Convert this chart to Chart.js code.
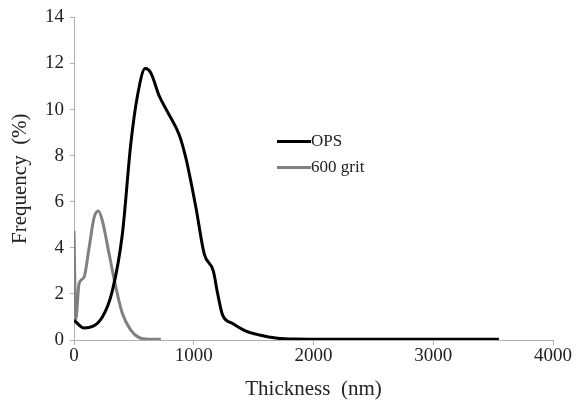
<!DOCTYPE html>
<html>
<head>
<meta charset="utf-8">
<script src="https://cdn.jsdelivr.net/npm/chart.js@4/dist/chart.umd.min.js"></script>
<style>
  html, body { margin: 0; padding: 0; background: #fff; }
  #wrap { position: relative; width: 585px; height: 402px; }
  .leg { position: absolute; font-family: "Liberation Serif", serif; font-size: 17px; color: #222; display: flex; align-items: center; }
  .leg span.sw { display: inline-block; width: 34px; height: 3px; margin-right: 0; }
</style>
</head>
<body>
<div id="wrap">
  <canvas id="c" width="585" height="402"></canvas>
  <div class="leg" style="left:277px; top:131px;"><span class="sw" style="background:#000"></span>OPS</div>
  <div class="leg" style="left:277px; top:157px;"><span class="sw" style="background:#808080"></span>600 grit</div>
</div>
<script>
// OPS distribution (thickness nm, frequency %)
const opsThickness = [0, 84, 237, 321, 404, 474, 530, 594, 641, 711, 781, 879, 934, 1018, 1088, 1163, 1200, 1241, 1325, 1436, 1548, 1700, 1850, 2100, 2500, 3000, 3548];
const opsFreq =      [0.86, 0.52, 1.0, 2.15, 4.6, 8.5, 10.6, 11.78, 11.6, 10.6, 9.9, 8.9, 7.9, 5.75, 3.73, 3.0, 2.0, 1.08, 0.72, 0.39, 0.22, 0.08, 0.04, 0.03, 0.03, 0.03, 0.03];

// 600 grit distribution
const gritThickness = [0, 15, 42, 84, 126, 167, 204, 237, 293, 349, 404, 474, 544, 620, 725];
const gritFreq =      [4.74, 0.9, 2.44, 2.73, 4.0, 5.3, 5.6, 5.17, 3.74, 2.3, 1.15, 0.43, 0.1, 0.03, 0.03];

const xTicks = [0, 1000, 2000, 3000, 4000];
const yTicks = [0, 2, 4, 6, 8, 10, 12, 14];

const toPoints = (xs, ys) => xs.map((x, i) => ({ x, y: ys[i] }));

const serif = "Liberation Serif";
const axisGrey = "#b0b0b0";

new Chart(document.getElementById("c").getContext("2d"), {
  type: "line",
  data: {
    datasets: [
      { label: "OPS", data: toPoints(opsThickness, opsFreq), borderColor: "#000", borderWidth: 3, pointRadius: 0, cubicInterpolationMode: "monotone", fill: false },
      { label: "600 grit", data: toPoints(gritThickness, gritFreq), borderColor: "#808080", borderWidth: 3, pointRadius: 0, cubicInterpolationMode: "monotone", fill: false }
    ]
  },
  options: {
    responsive: false,
    animation: false,
    layout: { padding: { top: 15, right: 32, left: 8, bottom: 0 } },
    plugins: { legend: { display: false }, tooltip: { enabled: false } },
    scales: {
      x: {
        type: "linear",
        min: 0, max: 4000,
        afterBuildTicks: s => { s.ticks = xTicks.map(v => ({ value: v })); },
        afterFit: s => { s.height = 62; },
        grid: { drawOnChartArea: false, drawTicks: true, tickLength: 5, color: axisGrey },
        border: { color: axisGrey, width: 1 },
        ticks: { color: "#222", font: { family: serif, size: 19 }, padding: 0, maxRotation: 0, callback: v => String(v) },
        title: { display: true, text: "Thickness  (nm)", color: "#222", font: { family: serif, size: 21 }, padding: { top: 0, bottom: 0 } }
      },
      y: {
        min: 0, max: 14,
        afterBuildTicks: s => { s.ticks = yTicks.map(v => ({ value: v })); },
        afterFit: s => { s.width = 66; },
        grid: { drawOnChartArea: false, drawTicks: true, tickLength: 4, color: axisGrey },
        border: { color: axisGrey, width: 1 },
        ticks: { color: "#222", font: { family: serif, size: 19 }, padding: 6, callback: v => String(v) },
        title: { display: true, text: "Frequency  (%)", color: "#222", font: { family: serif, size: 21 }, padding: { top: 0, bottom: 0 } }
      }
    }
  }
});
</script>
</body>
</html>
